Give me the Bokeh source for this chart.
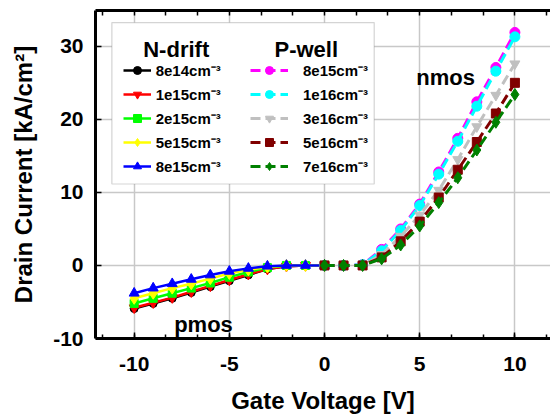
import numpy as np
from bokeh.plotting import figure
from bokeh.models import (LinearAxis, FixedTicker, Legend, LegendItem, BoxAnnotation,
                          Label, Range1d)
from bokeh.embed import file_html
from bokeh.resources import INLINE

# ---------------- data ----------------
vg_n = [-10, -9, -8, -7, -6, -5, -4, -3, -2, -1, 0]
ndrift_labels = ["8e14cm⁻³", "1e15cm⁻³", "2e15cm⁻³", "5e15cm⁻³", "8e15cm⁻³"]
nd_8e14 = [-5.9, -5.2, -4.5, -3.7, -2.9, -2.1, -1.3, -0.5, -0.1, 0, 0]
nd_1e15 = [-5.8, -5.1, -4.4, -3.6, -2.8, -2.0, -1.2, -0.5, -0.1, 0, 0]
nd_2e15 = [-5.2, -4.5, -3.8, -3.1, -2.4, -1.6, -0.9, -0.3, 0, 0, 0]
nd_5e15 = [-4.5, -3.8, -3.1, -2.5, -1.8, -1.1, -0.6, -0.2, 0, 0, 0]
nd_8e15 = [-3.8, -3.1, -2.5, -1.9, -1.3, -0.8, -0.4, -0.1, 0, 0, 0]

vg_p = [0, 1, 2, 3, 4, 5, 6, 7, 8, 9, 10]
pwell_labels = ["8e15cm⁻³", "1e16cm⁻³", "3e16cm⁻³", "5e16cm⁻³", "7e16cm⁻³"]
pw_8e15 = [0, 0, 0.1, 2.2, 5.0, 8.4, 12.8, 17.4, 22.4, 27.1, 31.9]
pw_1e16 = [0, 0, 0.1, 2.0, 4.8, 8.2, 12.5, 17.0, 21.8, 26.6, 31.3]
pw_3e16 = [0, 0, 0, 1.5, 4.0, 6.9, 10.3, 14.5, 19.0, 23.3, 27.6]
pw_5e16 = [0, 0, 0, 1.1, 3.3, 6.0, 9.3, 13.1, 16.9, 20.8, 25.0]
pw_7e16 = [0, 0, 0, 0.9, 2.8, 5.4, 8.6, 12.0, 15.8, 19.6, 23.4]

x_ticks = [-10, -5, 0, 5, 10]
x_tick_labels = {-10: "-10", -5: "-5", 0: "0", 5: "5", 10: "10"}
y_ticks = [-10, 0, 10, 20, 30]
y_tick_labels = {-10: "-10", 0: "0", 10: "10", 20: "20", 30: "30"}

FONT = "Liberation Sans"

p = figure(width=550, height=416, output_backend="svg", toolbar_location=None,
           x_range=Range1d(-12.03, 11.87), y_range=Range1d(-10, 34.9),
           min_border_left=95, min_border_top=10, min_border_right=0, min_border_bottom=77,
           x_axis_label="Gate Voltage [V]", y_axis_label="Drain Current [kA/cm²]")
p.outline_line_color = None
p.background_fill_color = "white"

minor = [float(v) for v in np.arange(-35 / 3, 12, 5 / 3)]
for ax in p.xaxis:
    ax.ticker = FixedTicker(ticks=x_ticks, minor_ticks=minor)
    ax.major_label_overrides = x_tick_labels
for ax in p.yaxis:
    ax.ticker = FixedTicker(ticks=y_ticks, minor_ticks=[])
    ax.major_label_overrides = y_tick_labels
p.xgrid.ticker = FixedTicker(ticks=x_ticks)
p.ygrid.ticker = FixedTicker(ticks=y_ticks)
for g in (p.xgrid[0], p.ygrid[0]):
    g.grid_line_color = "#c8c8c8"
    g.grid_line_width = 1.5

for ax in list(p.xaxis) + list(p.yaxis):
    ax.axis_line_width = 3
    ax.axis_line_color = "black"
    ax.major_tick_in = 6
    ax.major_tick_out = 0
    ax.minor_tick_in = 4
    ax.minor_tick_out = 0
    ax.major_tick_line_width = 1.5
    ax.minor_tick_line_width = 1.5
    ax.major_label_text_font = FONT
    ax.major_label_text_font_style = "bold"
    ax.major_label_text_font_size = "21px"
    ax.major_label_text_color = "black"
    ax.axis_label_text_font = FONT
    ax.axis_label_text_font_style = "bold"
    ax.axis_label_text_font_size = "24px"
    ax.axis_label_text_color = "black"
p.xaxis.major_label_standoff = 18
p.yaxis.major_label_standoff = 12
p.xaxis.axis_label_standoff = 13
p.yaxis.axis_label_standoff = 13

top = LinearAxis(ticker=FixedTicker(ticks=[], minor_ticks=minor),
                 axis_line_width=3, minor_tick_in=5, minor_tick_out=0,
                 minor_tick_line_width=1.5, major_label_standoff=0)
p.add_layout(top, "above")

# ---------------- series ----------------
nd_series = [nd_8e14, nd_1e15, nd_2e15, nd_5e15, nd_8e15]
nd_colors = ["black", "#ff0000", "#00ff00", "#ffff00", "#0000ff"]
nd_markers = ["circle", "inverted_triangle", "square", "diamond", "triangle"]
nd_sizes = [8, 10, 8, 12, 10]

pw_series = [pw_8e15, pw_1e16, pw_3e16, pw_5e16, pw_7e16]
pw_colors = ["#ff00ff", "#00ffff", "#c0c0c0", "#800000", "#008000"]
pw_markers = ["circle", "circle", "inverted_triangle", "square", "diamond"]
pw_sizes = [10, 10, 10, 9, 12]

nd_items = []
for ys, c, m, s, lab in zip(nd_series, nd_colors, nd_markers, nd_sizes, ndrift_labels):
    r1 = p.line(vg_n, ys, line_color=c, line_width=2.5)
    r2 = p.scatter(vg_n, ys, marker=m, size=s, fill_color=c, line_color=c)
    nd_items.append(LegendItem(label=lab, renderers=[r1, r2]))

pw_items = []
for ys, c, m, s, lab in zip(pw_series, pw_colors, pw_markers, pw_sizes, pwell_labels):
    r1 = p.line(vg_p, ys, line_color=c, line_width=3, line_dash="10 5")
    r2 = p.scatter(vg_p, ys, marker=m, size=s, fill_color=c, line_color=c)
    pw_items.append(LegendItem(label=lab, renderers=[r1, r2]))

# ---------------- legend ----------------
box = BoxAnnotation(left=-11.17, right=2.61, bottom=11.15, top=33.25,
                    fill_color="white", fill_alpha=1.0, line_color="#707070",
                    line_width=1.2)
p.add_layout(box)

common = dict(padding=0, spacing=4, label_height=20, glyph_height=20,
              border_line_color=None, background_fill_alpha=0,
              label_text_font=FONT, label_text_font_style="bold",
              label_text_font_size="15px", label_text_color="black")
leg1 = Legend(items=nd_items, location=(27.7, 162.5), glyph_width=28,
              label_standoff=5, **common)
leg2 = Legend(items=pw_items, location=(155, 162.5), glyph_width=38,
              label_standoff=15, **common)
p.add_layout(leg1, "center")
p.add_layout(leg2, "center")

title_style = dict(text_font=FONT, text_font_style="bold", text_font_size="22px",
                   text_color="black", text_align="center", text_baseline="alphabetic")
p.add_layout(Label(x=-7.79, y=29.56, text="N-drift", **title_style))
p.add_layout(Label(x=-0.96, y=29.56, text="P-well", **title_style))

lab_style = dict(text_font=FONT, text_font_style="bold", text_font_size="22px",
                 text_color="black", text_baseline="alphabetic")
p.add_layout(Label(x=4.82, y=25.7, text="nmos", **lab_style))
p.add_layout(Label(x=-7.9, y=-8.1, text="pmos", **lab_style))

open("out.html", "w").write(file_html(p, INLINE))
